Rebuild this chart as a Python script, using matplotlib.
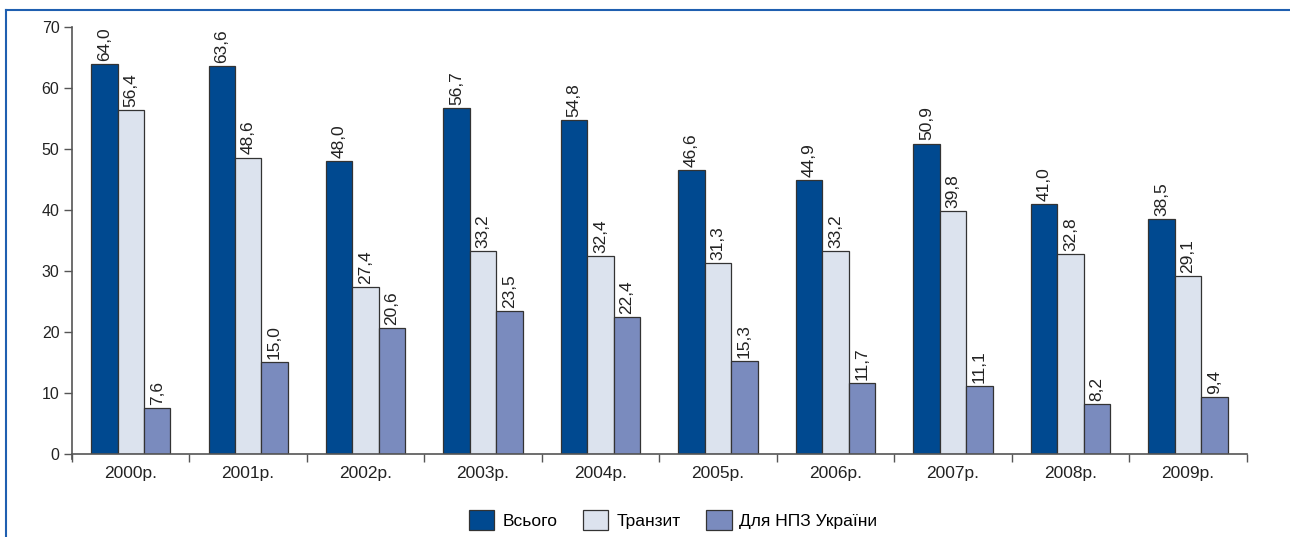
import numpy as np
import matplotlib.pyplot as plt
from matplotlib.lines import Line2D

plt.rcParams['font.family'] = ['Liberation Sans', 'DejaVu Sans']

years = ['2000р.', '2001р.', '2002р.', '2003р.', '2004р.',
         '2005р.', '2006р.', '2007р.', '2008р.', '2009р.']
total = [64.0, 63.6, 48.0, 56.7, 54.8, 46.6, 44.9, 50.9, 41.0, 38.5]
transit = [56.4, 48.6, 27.4, 33.2, 32.4, 31.3, 33.2, 39.8, 32.8, 29.1]
refinery = [7.6, 15.0, 20.6, 23.5, 22.4, 15.3, 11.7, 11.1, 8.2, 9.4]
series_names = ['Всього', 'Транзит', 'Для НПЗ України']

colors = ['#004990', '#dce3ee', '#7a8bbe']

fig = plt.figure(figsize=(12.9, 5.37), dpi=100)
ax = fig.add_axes([0.0558, 0.1546, 0.9106, 0.7951])

x = np.arange(len(years))
w = 0.225
for i, (vals, c, name) in enumerate(zip([total, transit, refinery], colors, series_names)):
    pos = x + (i - 1) * w
    bars = ax.bar(pos, vals, w, color=c, edgecolor='#333333', linewidth=0.9,
                  label=name, zorder=2)
    for b, v in zip(bars, vals):
        ax.text(b.get_x() + b.get_width() / 2, v + 0.5, f'{v:.1f}'.replace('.', ','),
                rotation=90, ha='center', va='bottom', fontsize=12.5, color='#222222')

ax.set_xlim(-0.5, len(years) - 0.5)
ax.set_ylim(0, 70)
ax.set_yticks(range(0, 71, 10))
ax.set_xticks(np.arange(-0.5, len(years), 1.0))
ax.set_xticklabels([])
ax.set_xticks(x, minor=True)
ax.set_xticklabels(years, minor=True)
ax.tick_params(axis='x', which='major', length=6, width=1, color='#555555', direction='out')
ax.tick_params(axis='x', which='minor', length=0, pad=9, labelsize=12.5, labelcolor='#222222')
ax.tick_params(axis='y', length=6, width=1, color='#555555', labelsize=11.5, labelcolor='#222222', pad=3)

for s in ['top', 'right']:
    ax.spines[s].set_visible(False)
for s in ['left', 'bottom']:
    ax.spines[s].set_color('#555555')
    ax.spines[s].set_linewidth(1.2)
ax.spines['left'].set_bounds(-0.9, 70)

leg = fig.legend(loc='center', bbox_to_anchor=(0.522, 0.032), ncol=3, frameon=False,
                 fontsize=12.5, handlelength=1.45, handleheight=1.45,
                 handletextpad=0.45, columnspacing=1.5)

# outer frame lines
fig.add_artist(Line2D([0.0047, 1.0], [0.9814, 0.9814], color='#1f5fb0', lw=1.5,
                      transform=fig.transFigure))
fig.add_artist(Line2D([0.0047, 0.0047], [0.0, 0.9814], color='#1f5fb0', lw=1.5,
                      transform=fig.transFigure))

fig.savefig('out.png', dpi=100)
